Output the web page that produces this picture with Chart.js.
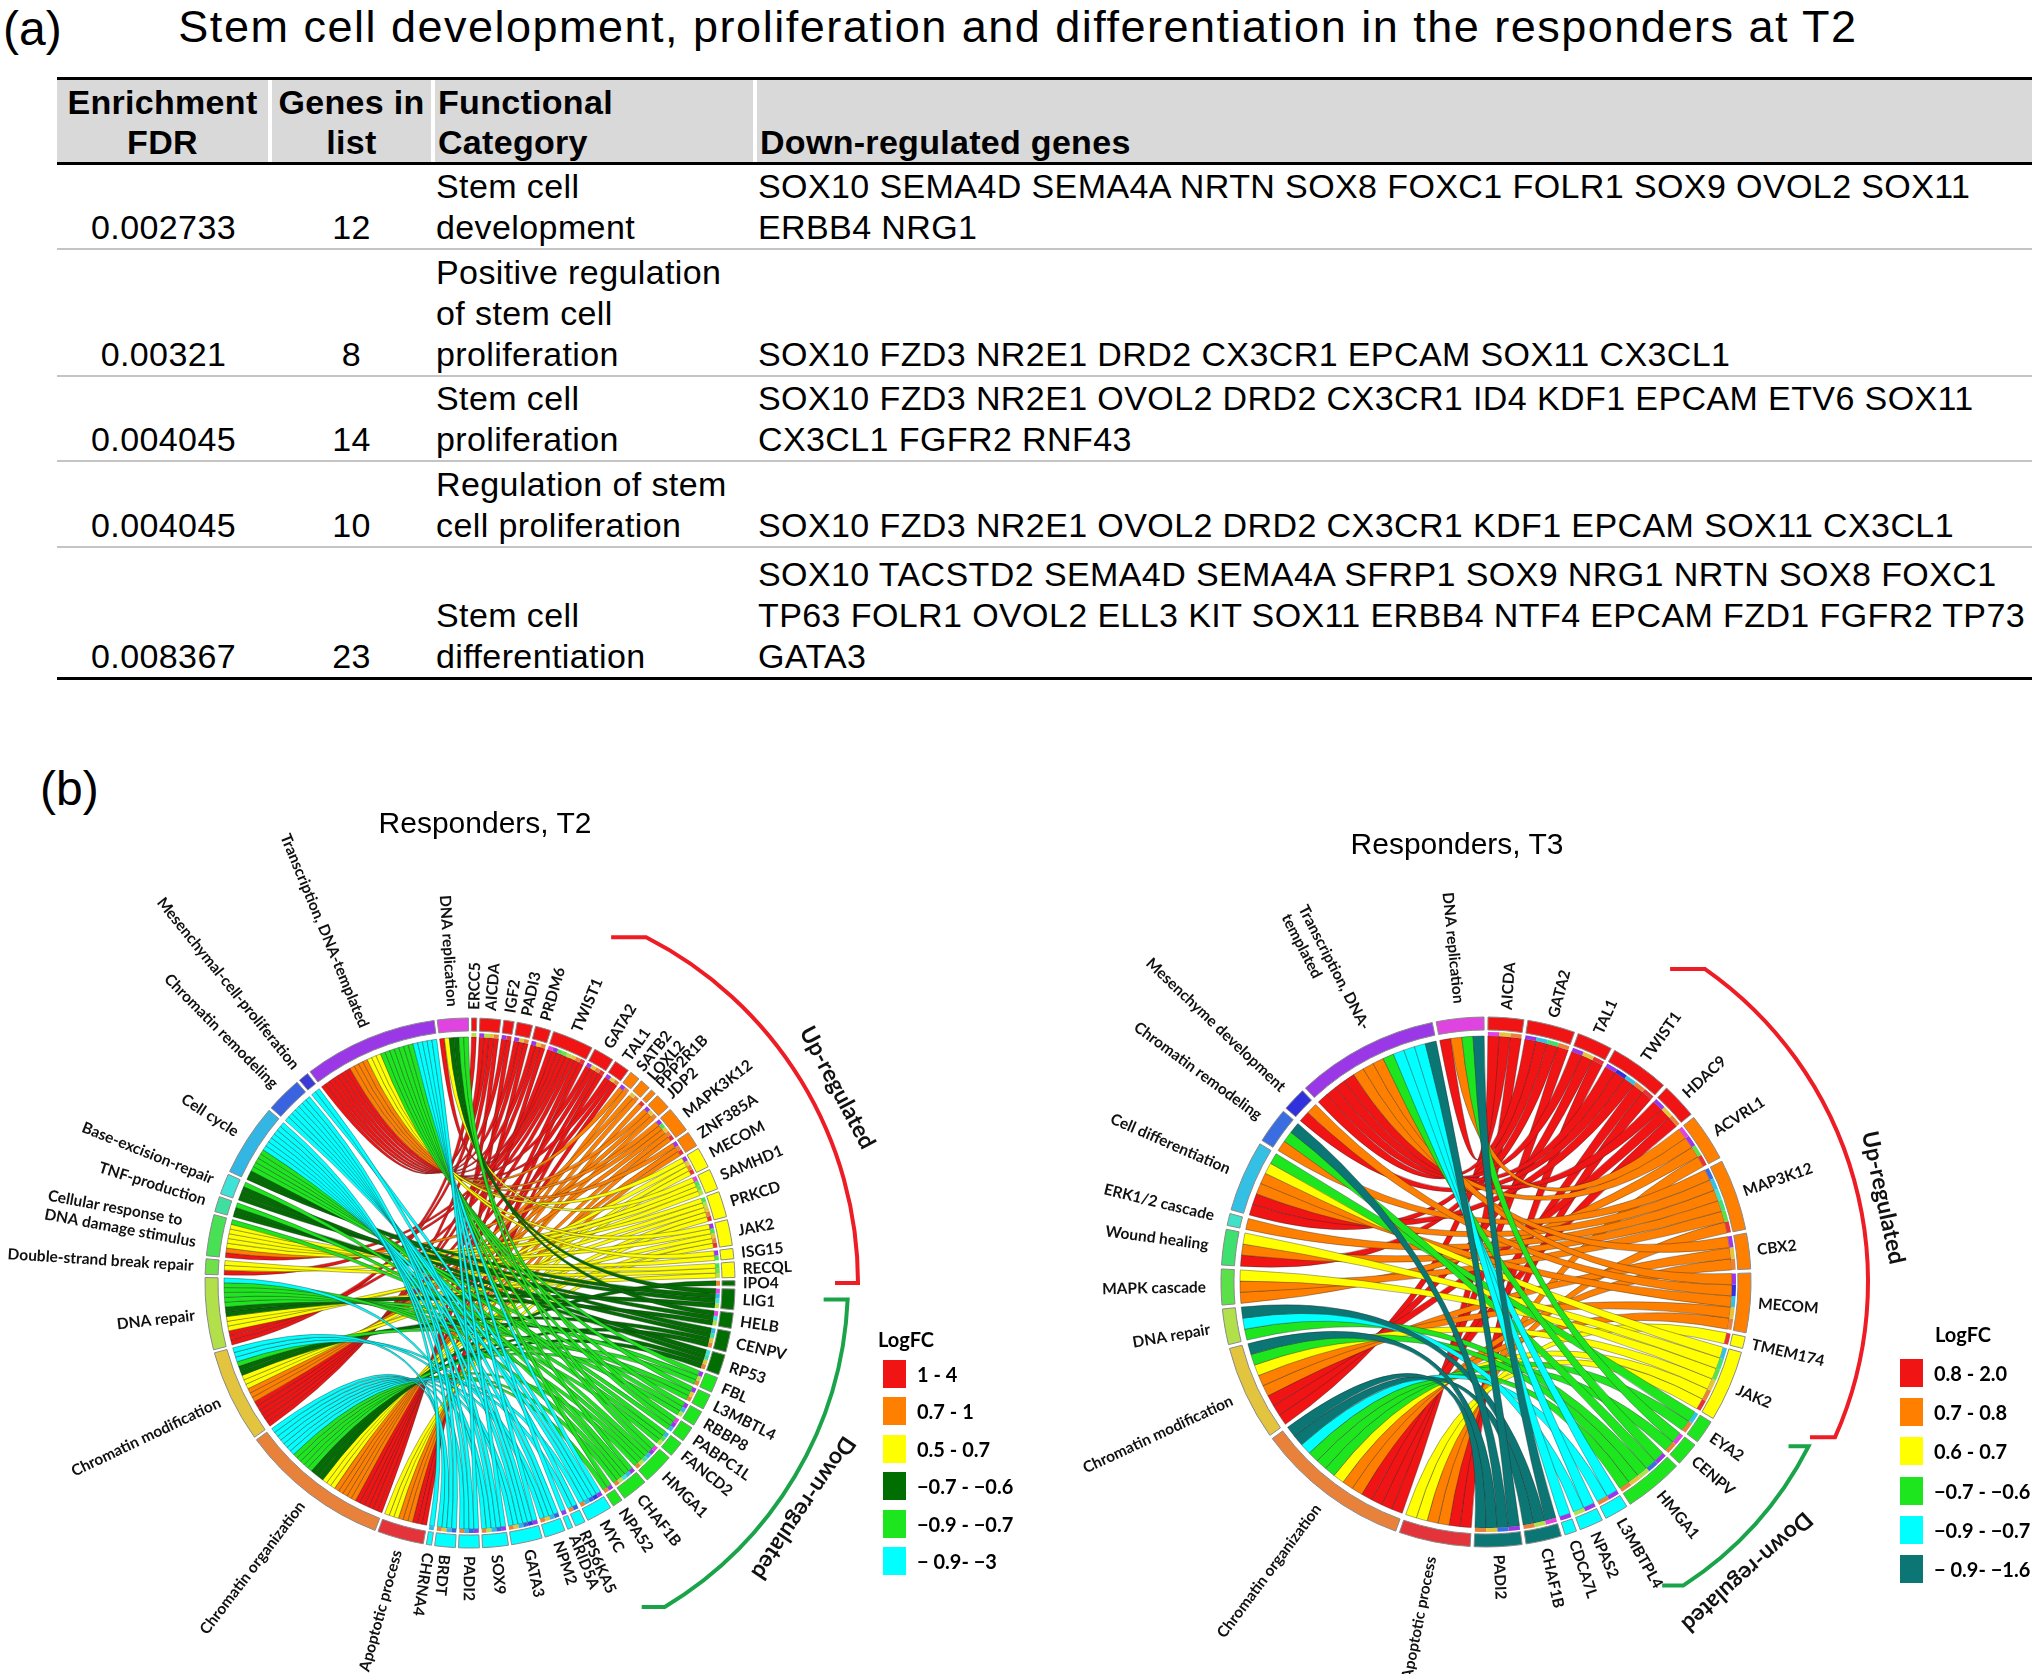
<!DOCTYPE html>
<html lang="en">
<head>
<meta charset="UTF-8">
<title>Stem cell development, proliferation and differentiation in the responders</title>
<script src="https://cdn.jsdelivr.net/npm/chart.js"></script>
<style>
  body { margin: 0; background: #fff; }
  #page {
    position: relative;
    width: 2040px;
    height: 1674px;
    overflow: hidden;
    font-family: Arial, "Liberation Sans", sans-serif;
    color: #000;
  }
  .abs { position: absolute; white-space: nowrap; }
  .panel { font-size: 48px; line-height: 48px; }
  #mainTitle { left: 0; width: 2036px; top: 4px; text-align: center; font-size: 45px; line-height: 45px; letter-spacing: 1.5px; }
  .cell {
    position: absolute;
    display: flex;
    flex-direction: column;
    justify-content: flex-end;
    box-sizing: border-box;
    font-size: 34px;
    line-height: 41px;
    letter-spacing: 0.4px;
    white-space: nowrap;
  }
  .hcell { background: #d9d9d9; font-weight: bold; line-height: 40px; letter-spacing: 0.3px; }
  .rule { position: absolute; left: 57px; width: 1975px; }
  canvas { position: absolute; }
  .ctitle { font-size: 30px; line-height: 30px; width: 400px; text-align: center; }
  .lg { position: absolute; font-family: Lato, "Open Sans", sans-serif; font-weight: 700; white-space: nowrap; }
  .sw { position: absolute; width: 23px; height: 28px; }
</style>
</head>
<body>
<div id="page">
  <div class="abs panel" style="left:3px; top:5px;">(a)</div>
  <div class="abs" id="mainTitle">Stem cell development, proliferation and differentiation in the responders at T2</div>
  <div id="table"></div>

  <div class="abs panel" style="left:40px; top:765px;">(b)</div>
  <canvas id="chordT2" width="1000" height="1000" style="left:-30px; top:783px;"></canvas>
  <canvas id="chordT3" width="1000" height="1000" style="left:986px; top:782px;"></canvas>
  <div class="abs ctitle" style="left:285px; top:808px;">Responders, T2</div>
  <div class="abs ctitle" style="left:1257px; top:829px;">Responders, T3</div>
  <div id="legends"></div>
</div>

<script>
// ---------- (a) table data
const fdrValues = ['0.002733', '0.00321', '0.004045', '0.004045', '0.008367'];
const genesInList = [12, 8, 14, 10, 23];
const categoryLines = [
  ['Stem cell', 'development'],
  ['Positive regulation', 'of stem cell', 'proliferation'],
  ['Stem cell', 'proliferation'],
  ['Regulation of stem', 'cell proliferation'],
  ['Stem cell', 'differentiation']
];
const downGeneLines = [
  ['SOX10 SEMA4D SEMA4A NRTN SOX8 FOXC1 FOLR1 SOX9 OVOL2 SOX11', 'ERBB4 NRG1'],
  ['SOX10 FZD3 NR2E1 DRD2 CX3CR1 EPCAM SOX11 CX3CL1'],
  ['SOX10 FZD3 NR2E1 OVOL2 DRD2 CX3CR1 ID4 KDF1 EPCAM ETV6 SOX11', 'CX3CL1 FGFR2 RNF43'],
  ['SOX10 FZD3 NR2E1 OVOL2 DRD2 CX3CR1 KDF1 EPCAM SOX11 CX3CL1'],
  ['SOX10 TACSTD2 SEMA4D SEMA4A SFRP1 SOX9 NRG1 NRTN SOX8 FOXC1',
   'TP63 FOLR1 OVOL2 ELL3 KIT SOX11 ERBB4 NTF4 EPCAM FZD1 FGFR2 TP73', 'GATA3']
];
const headerLines = [['Enrichment', 'FDR'], ['Genes in', 'list'], ['Functional', 'Category'], ['Down-regulated genes']];

// ---------- (b) chord data, responders T2
const t2Genes = ['ERCC5', 'AICDA', 'IGF2', 'PADI3', 'PRDM6', 'TWIST1', 'GATA2', 'TAL1',
  'SATB2', 'LOXL2', 'PPP2R1B', 'JDP2', 'MAPK3K12', 'ZNF385A',
  'MECOM', 'SAMHD1', 'PRKCD', 'JAK2', 'ISG15', 'RECQL',
  'IPO4', 'LIG1', 'HELB', 'CENPV', 'RP53',
  'FBL', 'L3MBTL4', 'RBBP8', 'PABPC1L', 'FANCD2', 'HMGA1', 'CHAF1B', 'NPA52',
  'MYC', 'RPS6KA5', 'ARID5A', 'NPM2', 'GATA3', 'SOX9', 'PADI2', 'BRDT', 'CHRNA4'];
const t2GeneFC = [0, 0, 0, 0, 0, 0, 0, 0, 1, 1, 1, 1, 1, 1, 2, 2, 2, 2, 2, 2,
  3, 3, 3, 3, 3, 4, 4, 4, 4, 4, 4, 4, 4, 5, 5, 5, 5, 5, 5, 5, 5, 5];
const t2FcLabels = ['1 - 4', '0.7 - 1', '0.5 - 0.7', '\u22120.7 - \u22120.6', '\u22120.9 - \u22120.7', '\u2212 0.9- \u22123'];
const t2FcColors = ['#f01414', '#ff8000', '#ffff00', '#006e00', '#1ee61e', '#00ffff'];
const t2Terms = ['Apoptotic process', 'Chromatin organization', 'Chromatin modification', 'DNA repair',
  'Double-strand break repair', 'Cellular response to\nDNA damage stimulus', 'TNF-production',
  'Base-excision-repair', 'Cell cycle', 'Chromatin remodeling', 'Mesenchymal-cell-proliferation',
  'Transcription, DNA-templated', 'DNA replication'];
const t2TermColors = ['#e2343a', '#e8823a', '#e2c43e', '#b2e04a', '#6fe04a', '#48e055', '#3edfa0',
  '#3fe2d6', '#34b6e4', '#3a63df', '#3a3ad8', '#9a38e8', '#e044e0'];
const t2TermGenes = [
  ['IGF2', 'TWIST1', 'GATA2', 'PPP2R1B', 'MAPK3K12', 'ZNF385A', 'MECOM', 'PRKCD', 'JAK2'],
  ['AICDA', 'PADI3', 'PRDM6', 'TWIST1', 'GATA2', 'TAL1', 'SATB2', 'LOXL2', 'JDP2', 'MAPK3K12', 'ZNF385A',
   'MECOM', 'PRKCD', 'JAK2', 'IPO4', 'CENPV', 'RP53', 'FBL', 'L3MBTL4', 'HMGA1', 'CHAF1B', 'NPA52',
   'MYC', 'RPS6KA5', 'NPM2', 'GATA3', 'SOX9', 'PADI2', 'BRDT'],
  ['AICDA', 'PADI3', 'PRDM6', 'TWIST1', 'GATA2', 'TAL1', 'LOXL2', 'JDP2', 'MAPK3K12', 'MECOM', 'PRKCD',
   'JAK2', 'CENPV', 'RP53', 'L3MBTL4', 'NPM2', 'GATA3', 'BRDT'],
  ['ERCC5', 'AICDA', 'TWIST1', 'SAMHD1', 'PRKCD', 'RECQL', 'LIG1', 'HELB', 'FBL', 'RBBP8', 'FANCD2',
   'HMGA1', 'CHAF1B', 'SOX9'],
  ['TWIST1', 'SAMHD1', 'RECQL'],
  ['TWIST1', 'MAPK3K12', 'SAMHD1', 'PRKCD', 'JAK2', 'ISG15', 'RECQL', 'FANCD2'],
  ['CENPV', 'RP53', 'HMGA1'],
  ['LIG1', 'HELB', 'RP53', 'CHAF1B'],
  ['LIG1', 'CENPV', 'RBBP8', 'PABPC1L', 'FANCD2', 'HMGA1', 'CHAF1B', 'MYC', 'NPM2', 'GATA3', 'SOX9',
   'PADI2', 'BRDT', 'CHRNA4'],
  ['MYC', 'RPS6KA5', 'NPM2', 'GATA3', 'SOX9', 'PADI2', 'BRDT'],
  ['MYC', 'GATA3'],
  ['AICDA', 'IGF2', 'PADI3', 'PRDM6', 'TWIST1', 'GATA2', 'TAL1', 'SATB2', 'JDP2', 'MAPK3K12', 'ZNF385A',
   'MECOM', 'JAK2', 'ISG15', 'FBL', 'L3MBTL4', 'RBBP8', 'PABPC1L', 'HMGA1', 'CHAF1B', 'NPA52', 'MYC',
   'ARID5A', 'GATA3', 'SOX9', 'PADI2'],
  ['TWIST1', 'SAMHD1', 'LIG1', 'HELB', 'PABPC1L', 'HMGA1']
];

// ---------- (b) chord data, responders T3
const t3Genes = ['AICDA', 'GATA2', 'TAL1', 'TWIST1', 'HDAC9', 'ACVRL1', 'MAP3K12', 'CBX2', 'MECOM',
  'TMEM174', 'JAK2', 'EYA2', 'CENPV', 'HMGA1', 'L3MBTPL4', 'NPAS2', 'CDCA7L', 'CHAF1B', 'PADI2'];
const t3GeneFC = [0, 0, 0, 0, 0, 1, 1, 1, 1, 2, 2, 3, 3, 3, 4, 4, 4, 5, 5];
const t3FcLabels = ['0.8 - 2.0', '0.7 - 0.8', '0.6 - 0.7', '\u22120.7 - \u22120.6', '\u22120.9 - \u22120.7', '\u2212 0.9- \u22121.6'];
const t3FcColors = ['#f01414', '#ff8000', '#ffff00', '#1ee61e', '#00ffff', '#0b7674'];
const t3Terms = ['Apoptotic process', 'Chromatin organization', 'Chromatin modification', 'DNA repair',
  'MAPK cascade', 'Wound healing', 'ERK1/2 cascade', 'Cell differentiation', 'Chromatin remodeling',
  'Mesenchyme development', 'Transcription, DNA-\ntemplated', 'DNA replication'];
const t3TermColors = ['#e2343a', '#e8823a', '#e2c43e', '#b2e04a', '#5ce04a', '#3ee070', '#3fe2c6',
  '#34c0e4', '#3a6ee0', '#3030dc', '#9a38e8', '#e044e0'];
const t3TermGenes = [
  ['TAL1', 'TWIST1', 'ACVRL1', 'MAP3K12', 'TMEM174', 'JAK2'],
  ['AICDA', 'GATA2', 'TWIST1', 'HDAC9', 'CBX2', 'MECOM', 'JAK2', 'EYA2', 'CENPV', 'HMGA1', 'L3MBTPL4',
   'CHAF1B', 'PADI2'],
  ['AICDA', 'TAL1', 'HDAC9', 'CBX2', 'MECOM', 'JAK2', 'HMGA1', 'PADI2'],
  ['HMGA1', 'NPAS2', 'CHAF1B'],
  ['ACVRL1', 'MAP3K12', 'JAK2'],
  ['GATA2', 'MAP3K12', 'JAK2'],
  ['MAP3K12'],
  ['GATA2', 'TWIST1', 'MAP3K12', 'MECOM', 'JAK2', 'EYA2'],
  ['MAP3K12', 'HMGA1', 'PADI2'],
  ['TWIST1', 'MECOM'],
  ['GATA2', 'TAL1', 'TWIST1', 'HDAC9', 'ACVRL1', 'CBX2', 'MECOM', 'HMGA1', 'L3MBTPL4', 'NPAS2',
   'CDCA7L', 'PADI2'],
  ['AICDA', 'ACVRL1', 'CENPV', 'CHAF1B']
];

// ---------- table (a)
const page = document.getElementById('table');
const colEdges = [57, 270, 433, 755, 2032];
const colAlign = ['center', 'center', 'flex-start', 'flex-start'];
const headerBox = [80, 162];
const rowBoxes = [[165, 248], [250, 375], [377, 460], [462, 546], [548, 677]];

function addCell(x0, x1, y0, y1, lines, align, cls) {
  const d = document.createElement('div');
  d.className = 'cell ' + (cls || '');
  d.style.left = x0 + 'px';
  d.style.width = (x1 - x0) + 'px';
  d.style.top = y0 + 'px';
  d.style.height = (y1 - y0) + 'px';
  d.style.alignItems = align;
  d.style.paddingLeft = align === 'flex-start' ? '3px' : '0';
  lines.forEach(s => {
    const l = document.createElement('div');
    l.textContent = s;
    d.appendChild(l);
  });
  page.appendChild(d);
}
function addRule(y, h, color) {
  const r = document.createElement('div');
  r.className = 'rule';
  r.style.top = y + 'px';
  r.style.height = h + 'px';
  r.style.background = color;
  page.appendChild(r);
}
headerLines.forEach((lines, i) => {
  const x0 = colEdges[i] + (i > 0 ? 2 : 0);
  const x1 = colEdges[i + 1] - (i < 3 ? 2 : 0);
  addCell(x0, x1, headerBox[0], headerBox[1], lines, colAlign[i], 'hcell');
});
fdrValues.forEach((fdr, r) => {
  const [y0, y1] = rowBoxes[r];
  const cols = [[fdr], [String(genesInList[r])], categoryLines[r], downGeneLines[r]];
  cols.forEach((lines, i) => addCell(colEdges[i], colEdges[i + 1], y0, y1, lines, colAlign[i]));
});
addRule(77, 3, '#000');
addRule(162, 3, '#000');
[248, 375, 460, 546].forEach(y => addRule(y, 2, '#c4c4c4'));
addRule(677, 3, '#000');

// ---------- chord diagrams
function drawChord(canvasId, c) {
  const geneIndex = {};
  c.genes.forEach((g, i) => { geneIndex[g] = i; });
  const links = [];
  c.termGenes.forEach((list, t) => {
    list.map(g => geneIndex[g]).sort((a, b) => a - b)
      .forEach((g, k) => links.push({ t: t, g: g, ts: k }));
  });
  const geneCount = c.genes.map(() => 0);
  links.forEach(l => { geneCount[l.g]++; });
  c.genes.forEach((_, g) => {
    links.filter(l => l.g === g).sort((a, b) => b.t - a.t).forEach((l, k) => { l.gs = k; });
  });
  const termCount = c.termGenes.map(list => list.length);

  // ring segments: genes clockwise from the top, then terms, with an empty gap after each
  const values = [], fills = [], names = [], seg = [];
  const geneArc = [], termArc = [];
  function push(v, fill, name, isSeg) { values.push(v); fills.push(fill); names.push(name); seg.push(isSeg); }
  c.genes.forEach((g, i) => {
    geneArc.push(values.length);
    push(geneCount[i], c.fcColors[c.geneFC[i]], g, true);
    push(c.gap, 'rgba(0,0,0,0)', '', false);
  });
  c.terms.forEach((t, i) => {
    termArc.push(values.length);
    push(termCount[i], c.termColors[i], t, true);
    push(c.gap, 'rgba(0,0,0,0)', '', false);
  });
  const total = values.reduce((a, b) => a + b, 0);

  function slot(arc, k, n) {
    const p = arc.getProps(['startAngle', 'endAngle'], true);
    const w = (p.endAngle - p.startAngle) / n;
    return [p.startAngle + k * w, p.startAngle + (k + 1) * w];
  }
  function midAngle(arc) {
    const p = arc.getProps(['startAngle', 'endAngle'], true);
    return (p.startAngle + p.endAngle) / 2;
  }

  const chordPlugin = {
    id: 'chord',
    beforeDatasetsDraw(chart) {
      const ctx = chart.ctx;
      const arcs = chart.getDatasetMeta(0).data;
      const cx = arcs[0].x, cy = arcs[0].y;
      const R = c.ribbonR;
      ctx.save();
      ctx.lineWidth = 0.7;
      ctx.strokeStyle = 'rgba(40,40,40,0.55)';
      links.slice().sort((a, b) => a.g - b.g).forEach(l => {
        const [t0, t1] = slot(arcs[termArc[l.t]], l.ts, termCount[l.t]);
        const [g0, g1] = slot(arcs[geneArc[l.g]], l.gs, geneCount[l.g]);
        ctx.beginPath();
        ctx.arc(cx, cy, R, t0, t1);
        ctx.quadraticCurveTo(cx, cy, cx + R * Math.cos(g0), cy + R * Math.sin(g0));
        ctx.arc(cx, cy, R, g0, g1);
        ctx.quadraticCurveTo(cx, cy, cx + R * Math.cos(t0), cy + R * Math.sin(t0));
        ctx.closePath();
        ctx.fillStyle = c.fcColors[c.geneFC[l.g]];
        ctx.fill();
        ctx.stroke();
      });
      // thin strip on the gene side showing the term of each ribbon
      links.forEach(l => {
        const [g0, g1] = slot(arcs[geneArc[l.g]], l.gs, geneCount[l.g]);
        ctx.beginPath();
        ctx.arc(cx, cy, R + 4, g0, g1);
        ctx.arc(cx, cy, R, g1, g0, true);
        ctx.closePath();
        ctx.fillStyle = c.termColors[l.t];
        ctx.fill();
      });
      ctx.restore();
    },
    afterDatasetsDraw(chart) {
      const ctx = chart.ctx;
      const arcs = chart.getDatasetMeta(0).data;
      const cx = arcs[0].x, cy = arcs[0].y;
      ctx.save();
      ctx.fillStyle = '#111';
      ctx.textBaseline = 'middle';
      ctx.font = c.geneFont;
      c.genes.forEach((name, i) => {
        ctx.save();
        ctx.translate(cx, cy);
        ctx.rotate(midAngle(arcs[geneArc[i]]));
        ctx.textAlign = 'left';
        ctx.fillText(name, c.geneLabelR, 0);
        ctx.restore();
      });
      ctx.font = c.termFont;
      c.terms.forEach((name, i) => {
        const lines = name.split('\n');
        const w = Math.max(...lines.map(s => ctx.measureText(s).width));
        ctx.save();
        ctx.translate(cx, cy);
        ctx.rotate(midAngle(arcs[termArc[i]]) + Math.PI);
        ctx.textAlign = 'left';
        lines.forEach((s, j) => ctx.fillText(s, -c.termLabelR - w, (j - (lines.length - 1) / 2) * 19));
        ctx.restore();
      });
      // up / down brackets
      c.brackets.forEach(b => {
        const f0 = (b.a0 - 90) * Math.PI / 180, f1 = (b.a1 - 90) * Math.PI / 180;
        const sx = cx + b.r * Math.cos(f0), sy = cy + b.r * Math.sin(f0);
        const ex = cx + b.r * Math.cos(f1), ey = cy + b.r * Math.sin(f1);
        ctx.beginPath();
        ctx.moveTo(sx - b.tick0, sy);
        ctx.lineTo(sx, sy);
        ctx.arc(cx, cy, b.r, f0, f1);
        ctx.lineTo(ex - b.tick1, ey);
        ctx.strokeStyle = b.color;
        ctx.lineWidth = 4;
        ctx.stroke();
        const fl = (b.ta - 90) * Math.PI / 180;
        ctx.save();
        ctx.translate(cx + b.tr * Math.cos(fl), cy + b.tr * Math.sin(fl));
        ctx.rotate(b.ta * Math.PI / 180);
        ctx.font = '700 23px Lato';
        ctx.textAlign = 'center';
        ctx.fillStyle = '#111';
        ctx.fillText(b.text, 0, 0);
        ctx.restore();
      });
      ctx.restore();
    }
  };

  return new Chart(document.getElementById(canvasId), {
    type: 'doughnut',
    data: {
      labels: names,
      datasets: [{
        data: values,
        backgroundColor: fills,
        borderColor: seg.map(s => s ? '#8a8a8a' : 'rgba(0,0,0,0)'),
        borderWidth: seg.map(s => s ? 1 : 0)
      }]
    },
    options: {
      responsive: false,
      animation: false,
      events: [],
      rotation: c.gap / total * 180,
      radius: 265,
      cutout: '95.1%',
      layout: { padding: 0 },
      plugins: { legend: { display: false }, tooltip: { enabled: false } }
    },
    plugins: [chordPlugin]
  });
}

drawChord('chordT2', {
  genes: t2Genes, geneFC: t2GeneFC, fcColors: t2FcColors,
  terms: t2Terms, termColors: t2TermColors, termGenes: t2TermGenes,
  gap: 0.6, ribbonR: 246, geneLabelR: 273, termLabelR: 277,
  geneFont: '700 15.5px Lato', termFont: '700 15.5px Lato',
  brackets: [
    { a0: 27, a1: 90, r: 388, tick0: 35, tick1: 23, color: '#ee1c24', text: 'Up-regulated', ta: 62, tr: 416 },
    { a0: 92.5, a1: 149, r: 378, tick0: 24, tick1: 23, color: '#1ba34a', text: 'Down-regulated', ta: 124, tr: 402 }
  ]
});

drawChord('chordT3', {
  genes: t3Genes, geneFC: t3GeneFC, fcColors: t3FcColors,
  terms: t3Terms, termColors: t3TermColors, termGenes: t3TermGenes,
  gap: 0.33, ribbonR: 246, geneLabelR: 273, termLabelR: 280,
  geneFont: '700 15.5px Lato', termFont: '700 15.5px Lato',
  brackets: [
    { a0: 35, a1: 114, r: 382, tick0: 35, tick1: 25, color: '#ee1c24', text: 'Up-regulated', ta: 78, tr: 406 },
    { a0: 117, a1: 147, r: 362, tick0: 20, tick1: 21, color: '#1ba34a', text: 'Down-regulated', ta: 138, tr: 390 }
  ]
});

// ---------- LogFC legends
function drawLegend(x, y, swX, swY, step, labX, labels, colors) {
  const box = document.getElementById('legends');
  const title = document.createElement('div');
  title.className = 'lg';
  title.style.left = x + 'px';
  title.style.top = y + 'px';
  title.style.fontSize = '20px';
  title.textContent = 'LogFC';
  box.appendChild(title);
  labels.forEach((lab, i) => {
    const top = swY + i * step;
    const sw = document.createElement('div');
    sw.className = 'sw';
    sw.style.left = swX + 'px';
    sw.style.top = top + 'px';
    sw.style.background = colors[i];
    box.appendChild(sw);
    const t = document.createElement('div');
    t.className = 'lg';
    t.style.left = labX + 'px';
    t.style.top = top + 'px';
    t.style.fontSize = '20px';
    t.style.lineHeight = '28px';
    t.textContent = lab;
    box.appendChild(t);
  });
}
drawLegend(878, 1327, 883, 1360, 37.4, 917, t2FcLabels, t2FcColors);
drawLegend(1935, 1322, 1900, 1359, 39.2, 1934, t3FcLabels, t3FcColors);
</script>
</body>
</html>
